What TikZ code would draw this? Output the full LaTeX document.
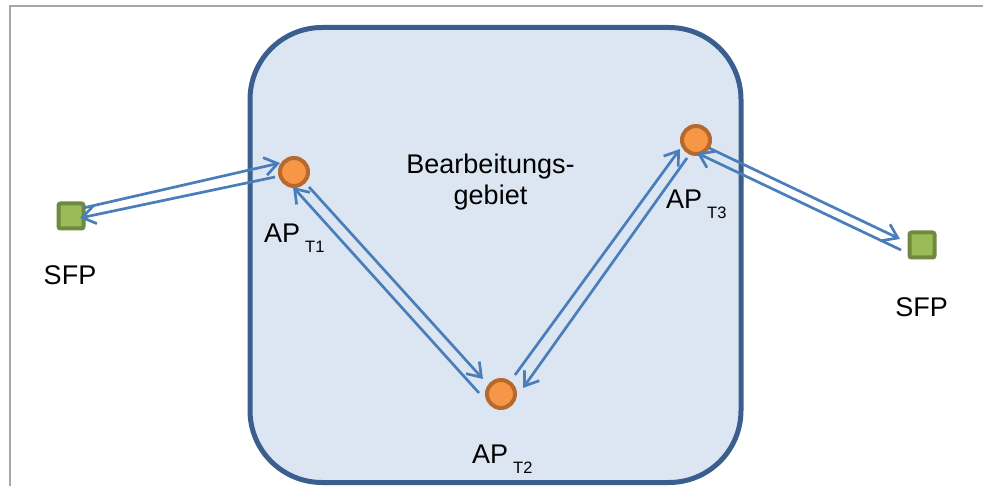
\documentclass[tikz,border=0pt]{standalone}
\usepackage{fontspec}
\setmainfont{Liberation Sans}
\usetikzlibrary{arrows.meta,calc}
\definecolor{framegray}{HTML}{A6A6A6}
\definecolor{boxline}{HTML}{3A5F8F}
\definecolor{boxfill}{HTML}{DCE6F2}
\definecolor{dotfill}{HTML}{F79646}
\definecolor{dotline}{HTML}{B5692E}
\definecolor{sqfill}{HTML}{9BBB59}
\definecolor{sqline}{HTML}{71893F}
\definecolor{arrowblue}{HTML}{4A7EBB}
\newcommand\apsub[1]{\hspace{5pt}\raisebox{-10pt}{\fontsize{16.5}{19}\selectfont #1}}
\begin{document}
\begin{tikzpicture}[x=1pt,y=-1pt,
  apdot/.style={circle, draw=dotline, fill=dotfill, line width=4pt, minimum size=28pt, inner sep=0pt},
  sfpbox/.style={rectangle, draw=sqline, fill=sqfill, line width=4pt, minimum size=25pt, inner sep=0pt, rounded corners=2pt},
  lbl/.style={inner sep=0pt, font=\fontsize{27}{31}\selectfont},
  arr/.style={draw=arrowblue, line width=2.7pt, -{Straight Barb[length=13pt,width=18pt]}},
  framestyle/.style={draw=framegray, line width=2pt},
  areastyle/.style={draw=boxline, fill=boxfill, line width=5pt, rounded corners=72pt}]
\useasboundingbox (0,0) rectangle (983,486);
% frame
\draw[framestyle] (10,486) -- (10,6) -- (983,6);
% working area
\draw[areastyle] (250,27.5) rectangle (741,482.5);
\node[lbl, anchor=base] (area1) at (490.5,174) {Bearbeitungs-};
\node[lbl, anchor=base] (area2) at (490.5,205) {gebiet};
% points
\node[sfpbox] (sl) at (71,216) {};
\node[sfpbox] (sr) at (922,245) {};
\node[apdot] (t1) at (294,172) {};
\node[apdot] (t2) at (501,394) {};
\node[apdot] (t3) at (696,140) {};
% labels
\node[lbl, anchor=base] (sllbl) at (70,285) {SFP};
\node[lbl, anchor=base] (srlbl) at (921.5,317) {SFP};
\node[lbl, anchor=base west] (t1lbl) at (264,243) {AP\apsub{T1}};
\node[lbl, anchor=base west] (t2lbl) at (472,463) {AP\apsub{T2}};
\node[lbl, anchor=base west] (t3lbl) at (666,209) {AP\apsub{T3}};
% connectors
\draw[arr] ($(sl)+(12,-8)$) -- ($(t1)+(-14,-9)$);
\draw[arr] ($(t1)+(-19,5)$) -- ($(sl)+(9,2)$);
\draw[arr] ($(t1)+(15,15)$) -- ($(t2)+(-18,-15)$);
\draw[arr] ($(t2)+(-22,-1)$) -- ($(t1)+(-1,15)$);
\draw[arr] ($(t2)+(14,-19)$) -- ($(t3)+(-16,9)$);
\draw[arr] ($(t3)+(-9,18)$) -- ($(t2)+(22,-6)$);
\draw[arr] ($(t3)+(13,8)$) -- ($(sr)+(-22,-6)$);
\draw[arr] ($(sr)+(-21,5)$) -- ($(t3)+(1,13)$);
\end{tikzpicture}
\end{document}
